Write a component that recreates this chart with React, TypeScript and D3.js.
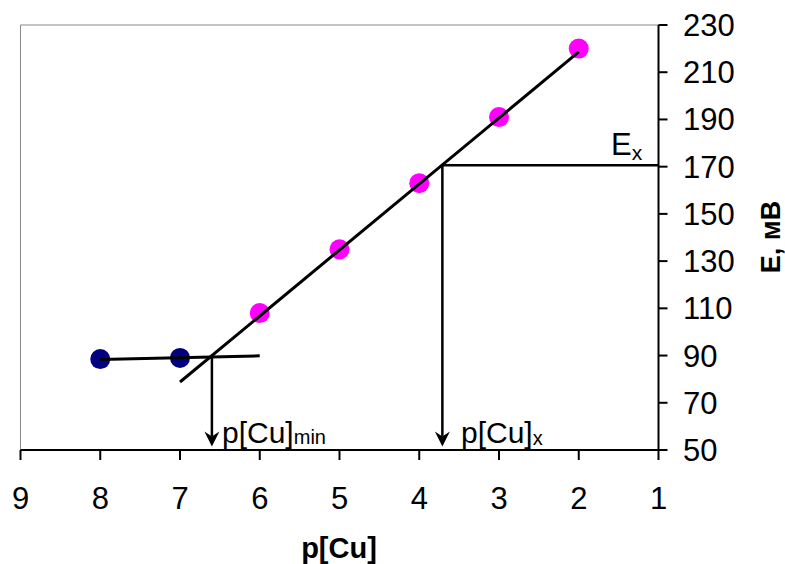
import React from "react";
import * as d3 from "d3";

// measured points
const bluePoints = [
  { x: 8, y: 88.5 },
  { x: 7, y: 89 },
];
const pinkPoints = [
  { x: 6, y: 108 },
  { x: 5, y: 135 },
  { x: 4, y: 163 },
  { x: 3, y: 191 },
  { x: 2, y: 220 },
];
// hand-drawn fit lines
const steepLine = [
  { x: 7, y: 78.8 },
  { x: 2, y: 218.6 },
];
const flatLine = [
  { x: 8, y: 88.3 },
  { x: 6, y: 89.9 },
];
const pCuMin = 6.6;
const pCuX = 3.71;
const Ex = 170.6;
const xTicks = [9, 8, 7, 6, 5, 4, 3, 2, 1];
const yTicks = [50, 70, 90, 110, 130, 150, 170, 190, 210, 230];

const W = 785;
const H = 564;
const FONT = "'Liberation Sans', Arial, sans-serif";

export default function App() {
  const x = d3.scaleLinear().domain([9, 1]).range([20.5, 658.5]);
  const y = d3.scaleLinear().domain([50, 230]).range([450, 25]);
  const line = d3
    .line<{ x: number; y: number }>()
    .x((d) => x(d.x))
    .y((d) => y(d.y));

  const arrow = (px: number, yTop: number) => {
    const xp = x(px);
    const y0 = y(yTop);
    const tip = y(50) - 3.5;
    return (
      <g>
        <line x1={xp} x2={xp} y1={y0} y2={tip - 10} stroke="#000" strokeWidth={2.5} />
        <path d={`M${xp - 7.5},${tip - 15} L${xp},${tip - 10} L${xp + 7.5},${tip - 15} L${xp},${tip} Z`} fill="#000" />
      </g>
    );
  };

  return (
    <svg width={W} height={H} style={{ position: "absolute", left: 0, top: 0 }} fontFamily={FONT}>
      <rect width={W} height={H} fill="#fff" />
      {/* plot frame: grey top/left */}
      <line x1={x(9)} x2={x(1)} y1={y(230)} y2={y(230)} stroke="#888" strokeWidth={1} />
      <line x1={x(9)} x2={x(9)} y1={y(230)} y2={y(50)} stroke="#888" strokeWidth={1} />

      {/* x axis */}
      <line x1={x(9)} x2={x(1)} y1={y(50)} y2={y(50)} stroke="#000" strokeWidth={2} />
      {xTicks.map((t) => (
        <g key={t}>
          <line x1={x(t)} x2={x(t)} y1={y(50)} y2={y(50) + 10} stroke="#000" strokeWidth={2} />
          <text x={x(t)} y={509} fontSize={31} textAnchor="middle">
            {t}
          </text>
        </g>
      ))}
      <text x={339} y={558} fontSize={29} fontWeight="bold" textAnchor="middle">
        p[Cu]
      </text>

      {/* y axis on right */}
      <line x1={x(1)} x2={x(1)} y1={y(230)} y2={y(50)} stroke="#000" strokeWidth={2} />
      {yTicks.map((t) => (
        <g key={t}>
          <line x1={x(1)} x2={x(1) + 9} y1={y(t)} y2={y(t)} stroke="#000" strokeWidth={2} />
          <text x={683} y={y(t) + 11} fontSize={31}>
            {t}
          </text>
        </g>
      ))}
      <text
        transform={`translate(780,237) rotate(-90)`}
        fontSize={27}
        fontWeight="bold"
        textAnchor="middle"
      >
        E, мВ
      </text>

      {/* points */}
      {bluePoints.map((d, i) => (
        <circle key={"b" + i} cx={x(d.x)} cy={y(d.y)} r={10} fill="#000080" />
      ))}
      {pinkPoints.map((d, i) => (
        <circle key={"p" + i} cx={x(d.x)} cy={y(d.y)} r={10} fill="#FF00FF" />
      ))}

      {/* fit lines */}
      <path d={line(steepLine) ?? ""} fill="none" stroke="#000" strokeWidth={3} />
      <path d={line(flatLine) ?? ""} fill="none" stroke="#000" strokeWidth={3} />

      {/* Ex construction */}
      <line x1={x(pCuX)} x2={x(1)} y1={y(Ex)} y2={y(Ex)} stroke="#000" strokeWidth={2.5} />
      {arrow(pCuX, Ex)}
      {arrow(pCuMin, 89.4)}

      {/* annotations */}
      <text x={611} y={155} fontSize={31}>
        E<tspan fontSize={21} dy={5}>x</tspan>
      </text>
      <text x={222} y={443} fontSize={30}>
        p[Cu]<tspan fontSize={20} dy={1}>min</tspan>
      </text>
      <text x={461} y={443} fontSize={30}>
        p[Cu]<tspan fontSize={20} dy={2}>x</tspan>
      </text>
    </svg>
  );
}
